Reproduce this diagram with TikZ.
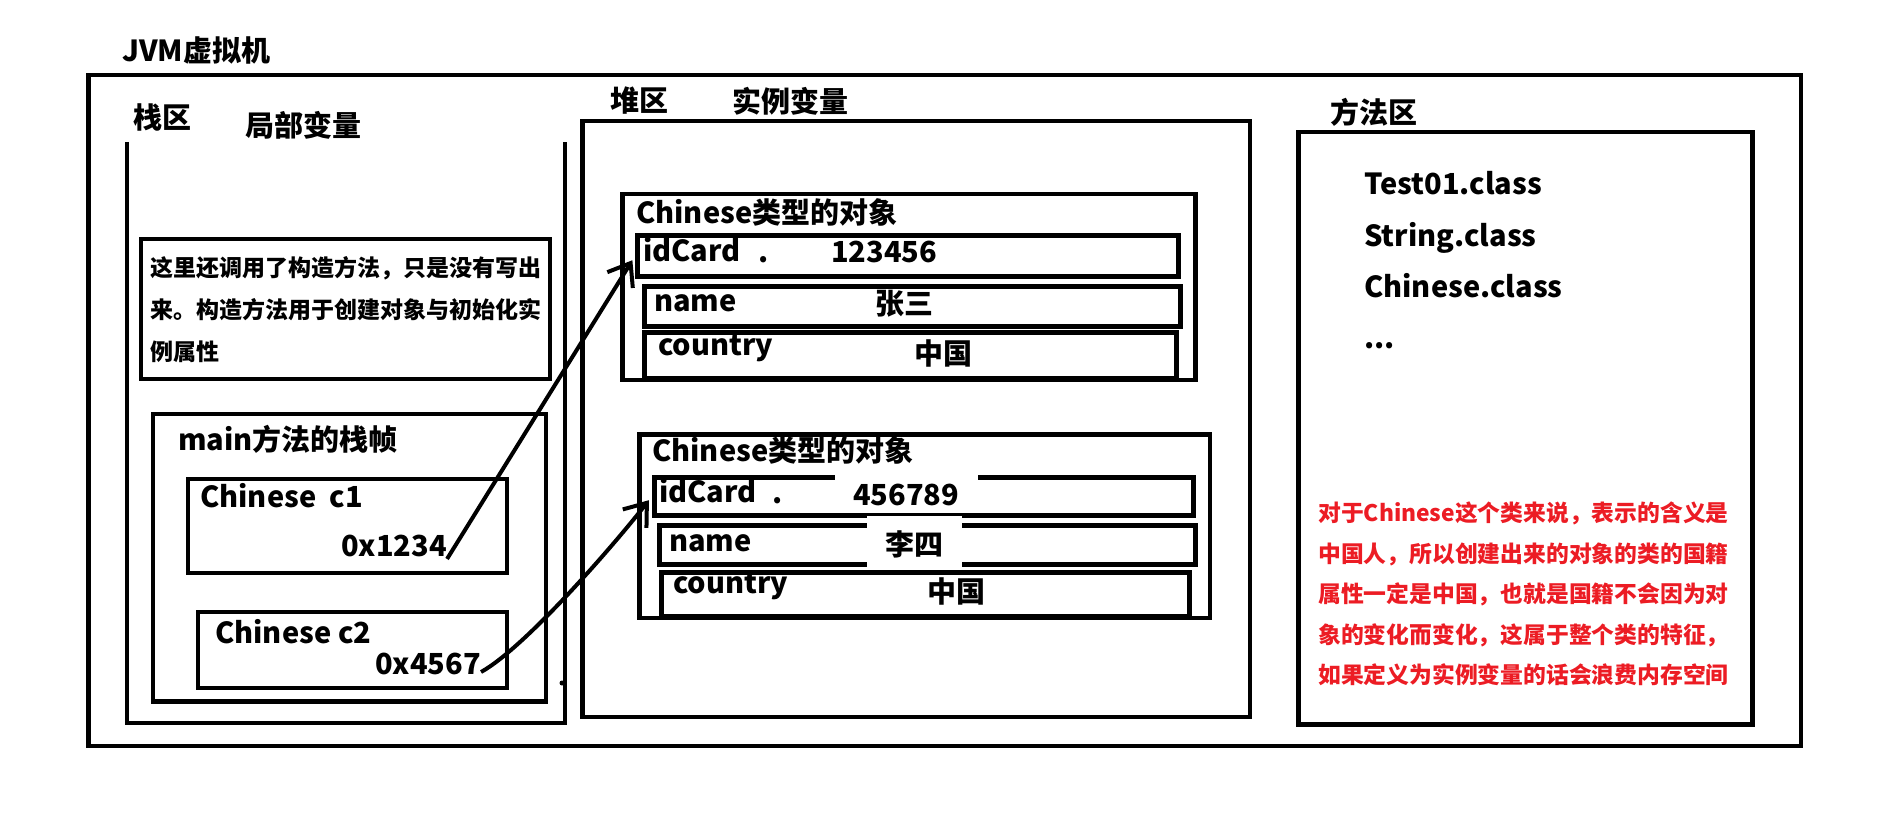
\documentclass[tikz,border=0pt]{standalone}
\usepackage{fontspec}
\setmainfont{Noto Sans CJK SC}
\usetikzlibrary{arrows.meta}
\definecolor{notered}{RGB}{236,28,36}

\begin{document}
\begin{tikzpicture}[x=1pt, y=-1pt,
    frame/.style={line width=4.5pt},
    row/.style={draw, line width=5pt, inner sep=0pt, anchor=north west},
    txt/.style={font=\bfseries\fontsize{29}{34}\selectfont, inner sep=0pt, anchor=west, text height=0.75em, text depth=0.2em, yshift=-6pt},
    val/.style={txt, anchor=center},
    gap/.style={font=\bfseries\fontsize{29}{34}\selectfont, inner sep=0pt, anchor=base, fill=white},
    ptr/.style={line width=4pt, -{Straight Barb[length=20pt, width=30pt]}}]
\useasboundingbox (0,0) rectangle (1903,824);

% JVM
\node[txt] (jvm) at (122,53) {JVM虚拟机};
\draw[frame] (88.6,75) rectangle (1801,746);

% stack area
\node[txt] (stk) at (133,120) {栈区};
\node[txt] (loc) at (245,128) {局部变量};
\draw[frame] (127,142) -- (127,723) -- (565,723) -- (565,142);
\draw[frame] (141,239) rectangle (550,379);
\node[anchor=north west, inner sep=0pt, align=left, font=\bfseries\fontsize{23}{42}\selectfont] (cmt) at (150,256)
    {这里还调用了构造方法，只是没有写出\\来。构造方法用于创建对象与初始化实\\例属性};
\draw[frame] (153,414) rectangle (546,701.5);
\node[txt] (frm) at (178,442) {main方法的栈帧};
\draw[frame] (188,479) rectangle (507,573);
\node[txt] (c1) at (200,499) {Chinese\ \ c1};
\node[txt] (a1) at (341,548) {0x1234};
\draw[frame] (198,612) rectangle (507,688);
\node[txt] (c2) at (215,635) {Chinese c2};
\node[txt] (a2) at (375,666) {0x4567};
\fill (562,683) circle (2.5);

% heap area
\node[txt] (hp) at (610,103) {堆区};
\node[txt] (ins) at (732,104) {实例变量};
\draw[frame] (582.5,121) rectangle (1250,717);

% first object
\draw[frame] (622.6,194) rectangle (1195.4,380);
\node[txt] (o1) at (636,215) {Chinese类型的对象};
\node[row, minimum width=541, minimum height=41] (id1) at (635,233) {};
\node[row, minimum width=536, minimum height=40] (nm1) at (642,284) {};
\node[row, minimum width=532, minimum height=46] (ct1) at (642,330) {};
\node[txt] (idl1) at (643,253) {idCard};
\node[txt] (dt1) at (758,254) {.};
\node[val] (v1) at (884,254) {123456};
\node[txt] (nml1) at (654,303) {name};
\node[val] (nv1) at (904,306) {张三};
\node[txt] (ctl1) at (658,347) {country};
\node[val] (cv1) at (943,356) {中国};

% second object
\draw[frame] (639.6,434.5) rectangle (1210,618);
\node[txt] (o2) at (652,453) {Chinese类型的对象};
\node[row, minimum width=538.5, minimum height=38.5] (id2) at (652,474.5) {};
\node[row, minimum width=536.5, minimum height=39] (nm2) at (656.5,523) {};
\node[row, minimum width=528, minimum height=44] (ct2) at (659,570) {};
\node[txt] (idl2) at (659,494) {idCard};
\node[txt] (dt2) at (772,495) {.};
\node[gap, minimum width=143, text height=35pt, text depth=5pt] (v2) at (906,505) {456789};
\node[txt] (nml2) at (669,543) {name};
\node[gap, minimum width=95, text height=39pt, text depth=14pt] (nv2) at (914.5,555) {李四};
\node[txt] (ctl2) at (673,585) {country};
\node[val] (cv2) at (956,594) {中国};

% method area
\node[txt] (mth) at (1330,115) {方法区};
\draw[frame] (1298.5,132) rectangle (1752.5,724.5);
\node[txt] (cl1) at (1364,186) {Test01.class};
\node[txt] (cl2) at (1364,238) {String.class};
\node[txt] (cl3) at (1364,289) {Chinese.class};
\node[txt] (cl4) at (1364,340) {...};
\node[anchor=north west, inner sep=0pt, align=left, text=notered, font=\bfseries\fontsize{22.8}{40.5}\selectfont] (note) at (1318,502)
    {对于Chinese这个类来说，表示的含义是\\中国人，所以创建出来的对象的类的国籍\\属性一定是中国，也就是国籍不会因为对\\象的变化而变化，这属于整个类的特征，\\如果定义为实例变量的话会浪费内存空间};

% references
\draw[ptr, shorten >=5pt] (a1.south east) -- (id1.west);
\draw[ptr, shorten >=5pt] (a2.east) .. controls +(45,-25) and +(-35,45) .. (id2.west);

\end{tikzpicture}
\end{document}
